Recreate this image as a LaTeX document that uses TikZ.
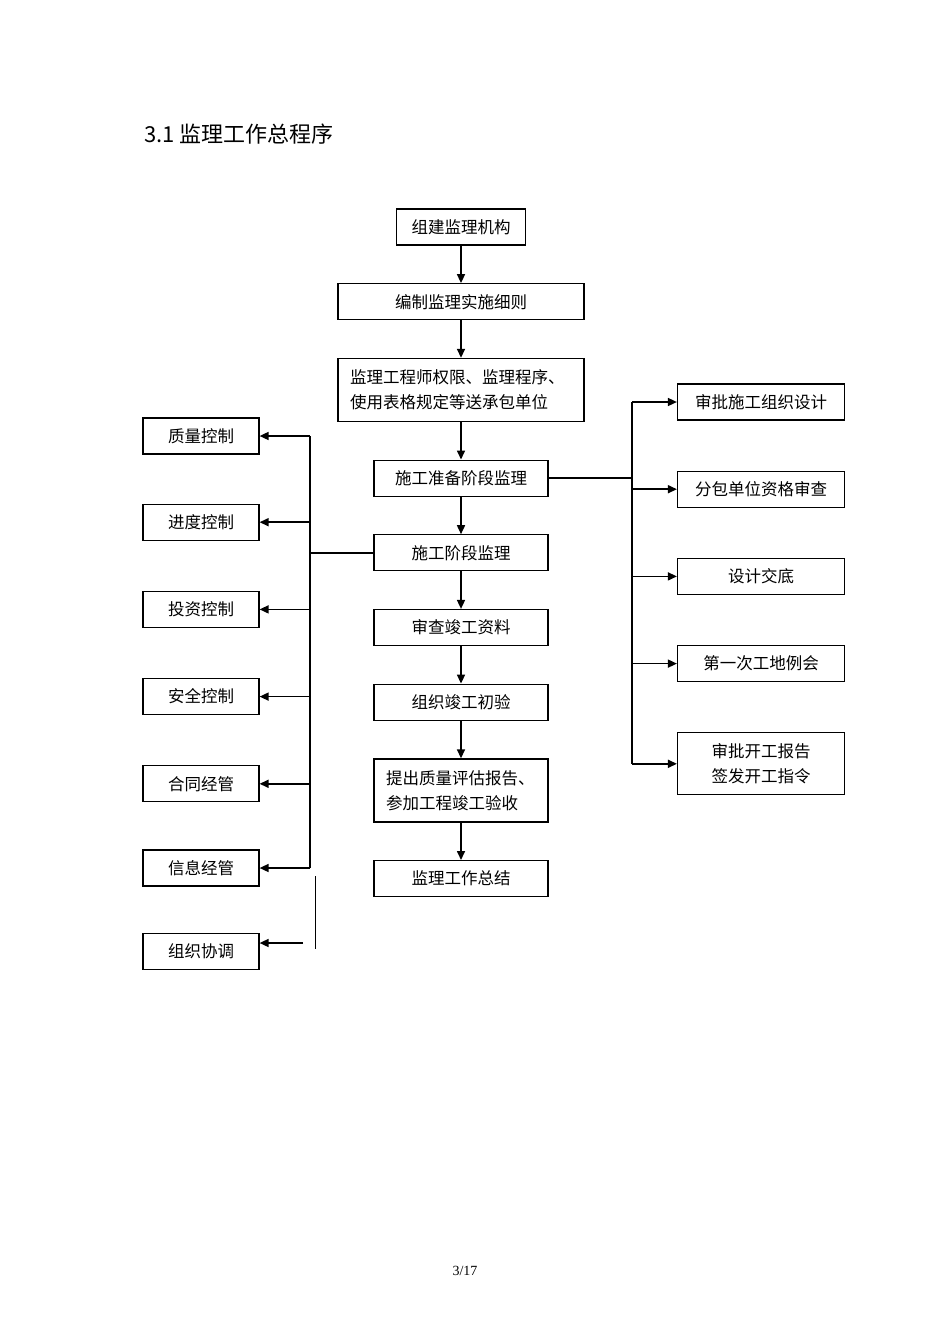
\documentclass[tikz,border=0pt]{standalone}
\usepackage{fontspec}
\setmainfont{Liberation Serif}
\newfontfamily\cjk{Noto Sans CJK SC}
\usetikzlibrary{positioning,arrows.meta}

\begin{document}
\begin{tikzpicture}[x=1pt, y=-1pt,
  kuang/.style={draw, line width=1.2pt, minimum height=36pt, inner sep=3pt,
                font=\cjk\fontsize{16.5}{25}\selectfont, align=center},
  liangh/.style={kuang, minimum height=63pt, inner xsep=12pt, align=left},
  jian/.style={-{Triangle[length=9pt,width=8pt]}, line width=1.6pt},
  xian/.style={line width=1.4pt}]
  \useasboundingbox (0,0) rectangle (950,1344);
  \node[anchor=west, font=\cjk\fontsize{22}{26}\selectfont] (biaoti) at (141,134)
       {3.1 监理工作总程序};
  % zhu liucheng
  \node[kuang, minimum width=129pt] (zujian) at (461,227) {组建监理机构};
  \node[kuang, minimum width=246pt, below=37.5pt of zujian] (bianzhi) {编制监理实施细则};
  \node[liangh, text width=222pt, below=37.5pt of bianzhi] (quanxian)
       {监理工程师权限、监理程序、\\使用表格规定等送承包单位};
  \node[kuang, minimum width=174pt, below=37.5pt of quanxian] (zhunbei) {施工准备阶段监理};
  \node[kuang, minimum width=174pt, below=37.5pt of zhunbei] (shigong) {施工阶段监理};
  \node[kuang, minimum width=174pt, below=37.5pt of shigong] (ziliao) {审查竣工资料};
  \node[kuang, minimum width=174pt, below=37.5pt of ziliao] (chuyan) {组织竣工初验};
  \node[liangh, text width=150pt, below=37.5pt of chuyan] (baogao)
       {提出质量评估报告、\\参加工程竣工验收};
  \node[kuang, minimum width=174pt, below=37.5pt of baogao] (zongjie) {监理工作总结};
  \foreach \a/\b in {zujian/bianzhi, bianzhi/quanxian, quanxian/zhunbei,
                     zhunbei/shigong, shigong/ziliao, ziliao/chuyan,
                     chuyan/baogao, baogao/zongjie}
    \draw[jian] (\a) -- (\b);
  % you ce: zhunbei jieduan
  \node[kuang, minimum width=167pt] (zusheji) at (761,402) {审批施工组织设计};
  \node[kuang, minimum width=167pt, below=50pt of zusheji] (fenbao) {分包单位资格审查};
  \node[kuang, minimum width=167pt, below=50pt of fenbao] (jiaodi) {设计交底};
  \node[kuang, minimum width=167pt, below=50pt of jiaodi] (lihui) {第一次工地例会};
  \node[kuang, minimum width=167pt, minimum height=62pt, below=50pt of lihui] (kaigong)
       {审批开工报告\\签发开工指令};
  \coordinate (youzhu) at (632,476);
  \draw[xian] (zhunbei.east) -- (zhunbei.east -| youzhu);
  \draw[line width=1.8pt] (zusheji.west -| youzhu) -- (kaigong.west -| youzhu);
  \foreach \n in {zusheji, fenbao, jiaodi, lihui, kaigong}
    \draw[jian] (\n.west -| youzhu) -- (\n.west);
  % zuo ce: shigong jieduan
  \node[kuang, minimum width=116pt] (zhiliang) at (201,436) {质量控制};
  \node[kuang, minimum width=116pt, below=49pt of zhiliang] (jindu) {进度控制};
  \node[kuang, minimum width=116pt, below=50pt of jindu] (touzi) {投资控制};
  \node[kuang, minimum width=116pt, below=50pt of touzi] (anquan) {安全控制};
  \node[kuang, minimum width=116pt, below=50pt of anquan] (hetong) {合同经管};
  \node[kuang, minimum width=116pt, below=47pt of hetong] (xinxi) {信息经管};
  \node[kuang, minimum width=116pt, below=46pt of xinxi] (xietiao) {组织协调};
  \coordinate (zuozhu) at (310,552);
  \draw[xian] (shigong.west) -- (shigong.west -| zuozhu);
  \draw[xian] (zhiliang.east -| zuozhu) -- (xinxi.east -| zuozhu);
  \foreach \n in {zhiliang, jindu, touzi, anquan, hetong, xinxi}
    \draw[jian] (\n.east -| zuozhu) -- (\n.east);
  \coordinate (duan1) at (315,876);
  \coordinate (duan2) at (315,949);
  \coordinate (xtqi) at (303,943);
  \draw[line width=1pt] (duan1) -- (duan2);
  \draw[jian] (xtqi) -- (xietiao.east |- xtqi);
  \node[font=\fontsize{14}{16}\selectfont] (yema) at (465,1271) {3/17};
\end{tikzpicture}
\end{document}
